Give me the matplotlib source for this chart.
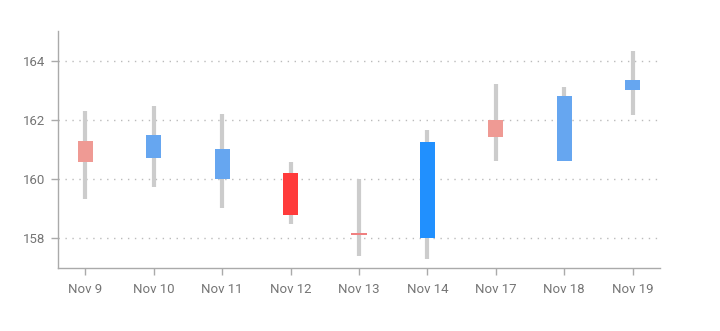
import matplotlib
matplotlib.use("Agg")
import matplotlib.pyplot as plt
import numpy as np

plt.rcParams['font.family'] = ['Roboto', 'DejaVu Sans']

dates = ["Nov 9", "Nov 10", "Nov 11", "Nov 12", "Nov 13", "Nov 14", "Nov 17", "Nov 18", "Nov 19"]
opens = [161.29, 160.72, 160.02, 160.22, 158.16, 158.00, 161.98, 160.60, 163.00]
closes = [160.57, 161.50, 161.03, 158.80, 158.16, 161.27, 161.42, 162.80, 163.35]
highs = [162.31, 162.46, 162.21, 160.59, 160.00, 161.67, 163.22, 163.10, 164.31]
lows = [159.34, 159.74, 159.01, 158.50, 157.41, 157.31, 160.61, 160.60, 162.18]
colors = ["#ef9a94", "#66a6f0", "#66a6f0", "#ff3b3b", "#f08080", "#2190fe", "#ef9a94", "#66a6f0", "#66a6f0"]

fig = plt.figure(figsize=(7.2, 3.31), dpi=100)
ax = fig.add_axes([58/720, 1-268/331, (660-58)/720, (268-31)/331])

x = np.arange(len(dates))
ax.vlines(x, lows, highs, color="#cccccc", linewidth=3, zorder=2)
bottoms = np.minimum(opens, closes)
heights = np.abs(np.array(closes) - np.array(opens))
heights = np.where(heights < 0.06, 0.06, heights)
bottoms = np.where(np.abs(np.array(closes) - np.array(opens)) < 0.06, np.array(bottoms) - 0.03, bottoms)
ax.bar(x, heights, bottom=bottoms, width=0.22, color=colors, zorder=3, linewidth=0)

ax.set_xlim(-0.4, len(dates) - 0.6)
ax.set_ylim(157, 165)
ax.set_yticks([158, 160, 162, 164])
ax.set_xticks(x)
ax.set_xticklabels(dates)
ax.grid(axis='y', linestyle=(0, (1, 4)), color="#bbbbbb", linewidth=1)
ax.set_axisbelow(True)
for s in ["top", "right"]:
    ax.spines[s].set_visible(False)
for s in ["left", "bottom"]:
    ax.spines[s].set_color("#aaaaaa")
    ax.spines[s].set_linewidth(1)
ax.tick_params(axis='both', colors="#aaaaaa", labelcolor="#757575", labelsize=9.5, length=5, width=1)
ax.tick_params(axis='x', pad=6)
ax.tick_params(axis='y', pad=4)

fig.savefig("out.png", dpi=100)
